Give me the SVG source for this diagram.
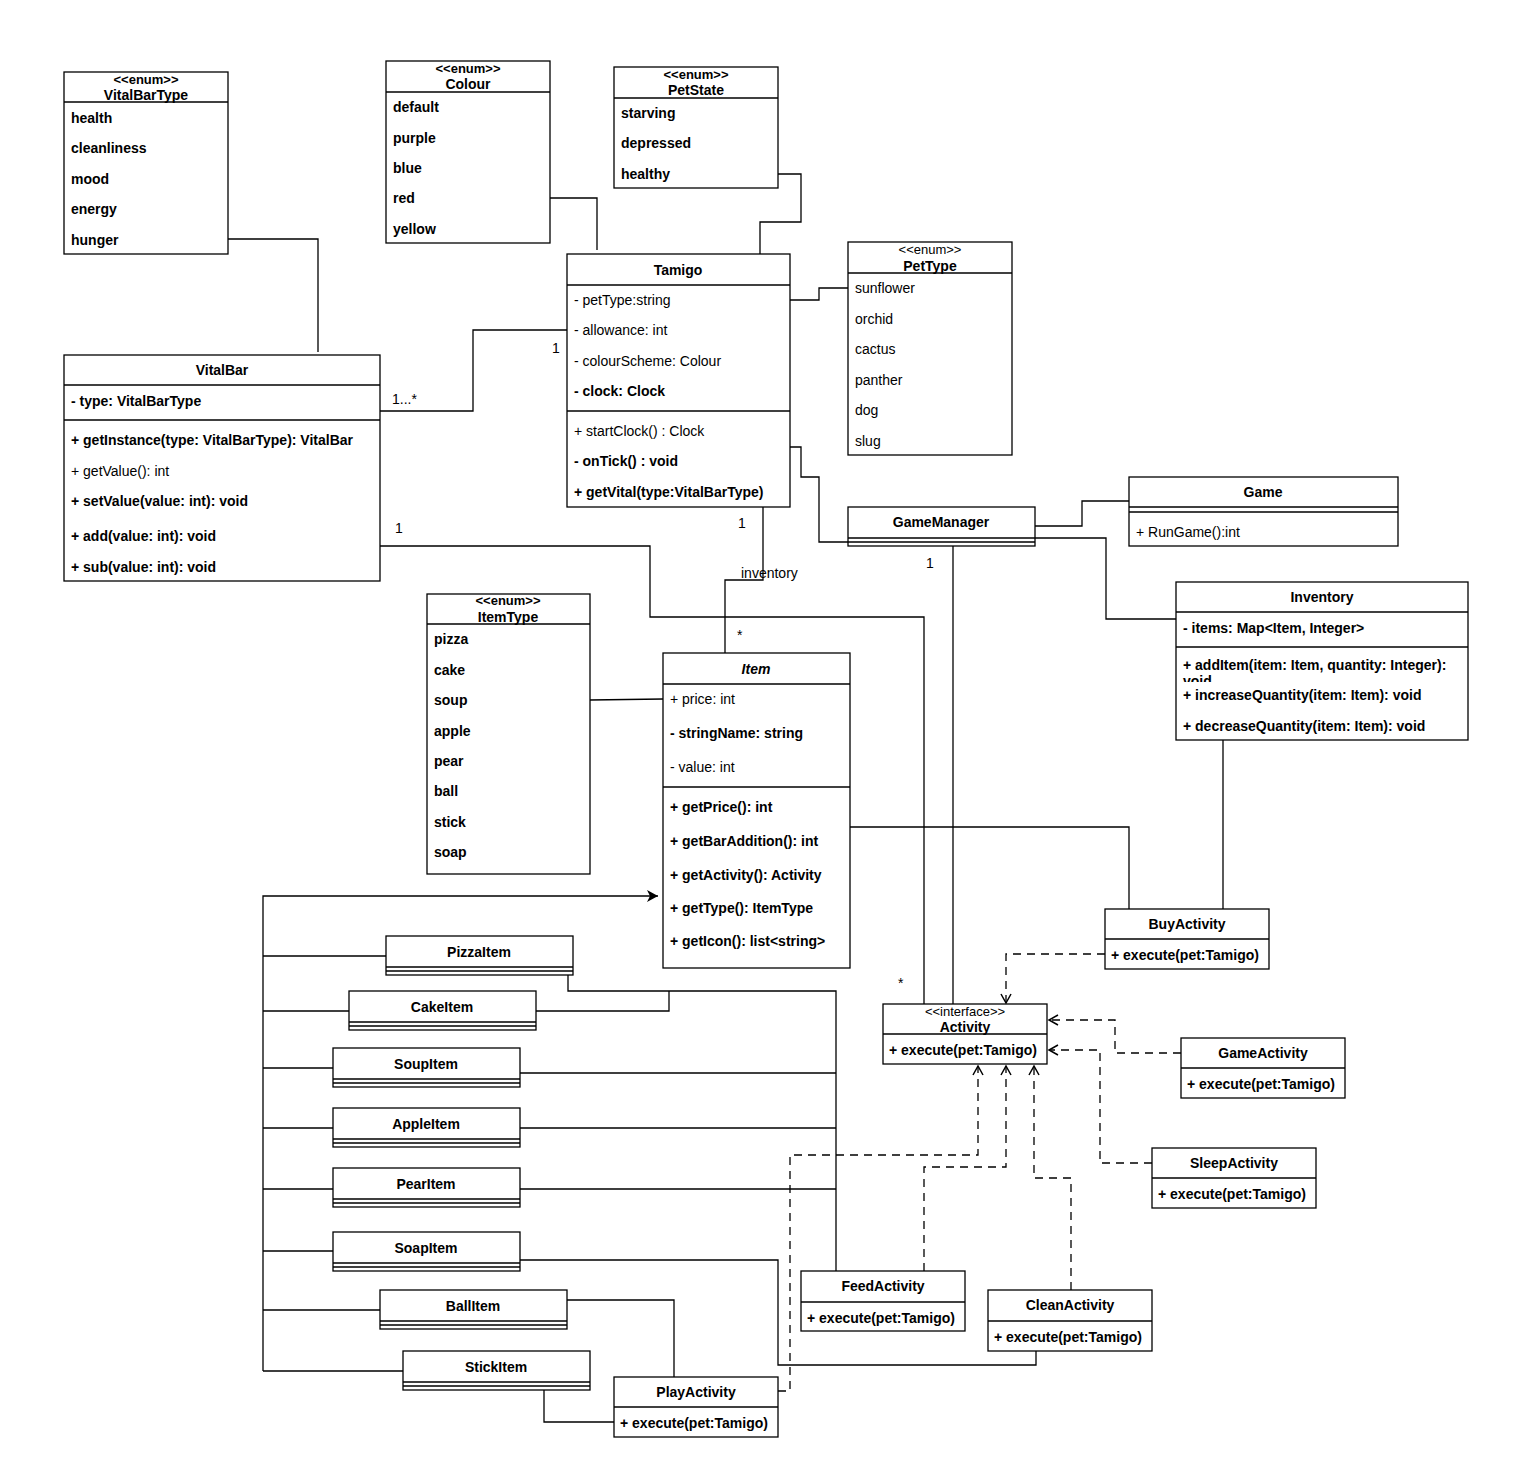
<svg xmlns="http://www.w3.org/2000/svg" width="1536" height="1468" viewBox="0 0 1536 1468">
<style>
.b{fill:#fff;stroke:#000;stroke-width:1.3}
.l{stroke:#000;stroke-width:1.3;fill:none}
.d{stroke:#000;stroke-width:1.3;fill:none;stroke-dasharray:8 6}
text{font-family:"Liberation Sans",Arial,sans-serif;font-size:14px;fill:#000}
.t{font-weight:bold;text-anchor:middle}
.s{text-anchor:middle;font-size:13px}
.bo{font-weight:bold}
</style>
<defs>
<marker id="a" markerWidth="12" markerHeight="12" refX="10" refY="6" orient="auto" markerUnits="userSpaceOnUse"><path d="M1,1 L10,6 L1,11" fill="none" stroke="#000" stroke-width="1.5"/></marker>
<marker id="g" markerWidth="14" markerHeight="14" refX="12" refY="7" orient="auto" markerUnits="userSpaceOnUse"><path d="M1,1 L12,7 L1,13 L4,7 Z" fill="#000"/></marker>
</defs>
<rect width="1536" height="1468" fill="#fff"/>
<g id="connectors">
<path class="l" d="M228,239 H318 V352"/>
<path class="l" d="M550,198 H597 V250"/>
<path class="l" d="M778,174 H801 V222 H760 V254"/>
<path class="l" d="M790,300 H819 V288 H848"/>
<path class="l" d="M380,411 H473 V330 H567"/>
<path class="l" d="M790,447 H801 V477 H819 V542 H848"/>
<path class="l" d="M763,507 V580 H725 V653"/>
<path class="l" d="M380,546 H650 V617 H924 V1004"/>
<path class="l" d="M953,546 V1004"/>
<path class="l" d="M1035,526 H1082 V501 H1129"/>
<path class="l" d="M1035,538 H1106 V619 H1176"/>
<path class="l" d="M1223,740 V909"/>
<path class="l" d="M850,827 H1129 V909"/>
<path class="l" d="M590,700 L663,699"/>
<path class="l" d="M263,1371 V896 H658" marker-end="url(#g)"/>
<path class="l" d="M263,956 H386 M263,1011 H349 M263,1068 H333 M263,1128 H333 M263,1189 H333 M263,1251 H333 M263,1310 H380 M263,1371 H403"/>
<path class="l" d="M568,975 V991 H836 V1271"/>
<path class="l" d="M536,1011 H669 V991"/>
<path class="l" d="M520,1073 H836 M520,1128 H836 M520,1189 H836"/>
<path class="l" d="M520,1260 H778 V1365 H1036 V1351"/>
<path class="l" d="M567,1300 H674 V1377"/>
<path class="l" d="M544,1390 V1422 H614"/>
<path class="d" d="M1105,954 H1006 V1003" marker-end="url(#a)"/>
<path class="d" d="M1181,1053 H1115 V1020 H1049" marker-end="url(#a)"/>
<path class="d" d="M1152,1163 H1100 V1050 H1049" marker-end="url(#a)"/>
<path class="d" d="M924,1271 V1167 H1006 V1066" marker-end="url(#a)"/>
<path class="d" d="M1071,1290 V1178 H1034 V1066" marker-end="url(#a)"/>
<path class="d" d="M778,1391 H790 V1155 H978 V1066" marker-end="url(#a)"/>
<text x="392" y="404" font-size="12">1...*</text>
<text x="552" y="353" font-size="12">1</text>
<text x="741" y="578" font-size="12">inventory</text>
<text x="738" y="528" font-size="12">1</text>
<text x="737" y="640" font-size="12">*</text>
<text x="395" y="533" font-size="12">1</text>
<text x="898" y="988" font-size="12">*</text>
<text x="926" y="568" font-size="12">1</text>
</g>
<g id="VitalBarType"><rect class="b" x="64" y="72" width="164" height="182"/><line class="l" x1="64" y1="102" x2="228" y2="102"/>
<text class="s bo" x="146" y="84">&lt;&lt;enum&gt;&gt;</text><text class="t" x="146" y="100">VitalBarType</text>
<text class="bo" x="71" y="123">health</text><text class="bo" x="71" y="153">cleanliness</text><text class="bo" x="71" y="184">mood</text><text class="bo" x="71" y="214">energy</text><text class="bo" x="71" y="245">hunger</text></g>
<g id="Colour"><rect class="b" x="386" y="61" width="164" height="182"/><line class="l" x1="386" y1="92" x2="550" y2="92"/>
<text class="s bo" x="468" y="73">&lt;&lt;enum&gt;&gt;</text><text class="t" x="468" y="89">Colour</text>
<text class="bo" x="393" y="112">default</text><text class="bo" x="393" y="143">purple</text><text class="bo" x="393" y="173">blue</text><text class="bo" x="393" y="203">red</text><text class="bo" x="393" y="234">yellow</text></g>
<g id="PetState"><rect class="b" x="614" y="67" width="164" height="121"/><line class="l" x1="614" y1="98" x2="778" y2="98"/>
<text class="s bo" x="696" y="79">&lt;&lt;enum&gt;&gt;</text><text class="t" x="696" y="95">PetState</text>
<text class="bo" x="621" y="118">starving</text><text class="bo" x="621" y="148">depressed</text><text class="bo" x="621" y="179">healthy</text></g>
<g id="Tamigo"><rect class="b" x="567" y="254" width="223" height="253"/><line class="l" x1="567" y1="285" x2="790" y2="285"/><line class="l" x1="567" y1="411" x2="790" y2="411"/>
<text class="t" x="678" y="275">Tamigo</text>
<text x="574" y="305">- petType:string</text><text x="574" y="335">- allowance: int</text><text x="574" y="366">- colourScheme: Colour</text><text class="bo" x="574" y="396">- clock: Clock</text>
<text x="574" y="436">+ startClock() : Clock</text><text class="bo" x="574" y="466">- onTick() : void</text><text class="bo" x="574" y="497">+ getVital(type:VitalBarType)</text></g>
<g id="PetType"><rect class="b" x="848" y="242" width="164" height="213"/><line class="l" x1="848" y1="273" x2="1012" y2="273"/>
<text class="s" x="930" y="254">&lt;&lt;enum&gt;&gt;</text><text class="t" x="930" y="271">PetType</text>
<text x="855" y="293">sunflower</text><text x="855" y="324">orchid</text><text x="855" y="354">cactus</text><text x="855" y="385">panther</text><text x="855" y="415">dog</text><text x="855" y="446">slug</text></g>
<g id="VitalBar"><rect class="b" x="64" y="355" width="316" height="226"/><line class="l" x1="64" y1="385" x2="380" y2="385"/><line class="l" x1="64" y1="420" x2="380" y2="420"/>
<text class="t" x="222" y="375">VitalBar</text><text class="bo" x="71" y="406">- type: VitalBarType</text>
<text class="bo" x="71" y="445">+ getInstance(type: VitalBarType): VitalBar</text><text x="71" y="476">+ getValue(): int</text><text class="bo" x="71" y="506">+ setValue(value: int): void</text><text class="bo" x="71" y="541">+ add(value: int): void</text><text class="bo" x="71" y="572">+ sub(value: int): void</text></g>
<g id="GameManager"><rect class="b" x="848" y="507" width="187" height="39"/><path class="l" d="M848,538 H1035 M848,542 H1035"/><text class="t" x="941" y="527">GameManager</text></g>
<g id="Game"><rect class="b" x="1129" y="477" width="269" height="69"/><path class="l" d="M1129,507 H1398 M1129,512 H1398"/><text class="t" x="1263" y="497">Game</text><text x="1136" y="537">+ RunGame():int</text></g>
<g id="Inventory"><rect class="b" x="1176" y="582" width="292" height="158"/><line class="l" x1="1176" y1="612" x2="1468" y2="612"/><line class="l" x1="1176" y1="647" x2="1468" y2="647"/>
<text class="t" x="1322" y="602">Inventory</text><text class="bo" x="1183" y="633">- items: Map&lt;Item, Integer&gt;</text>
<text class="bo" x="1183" y="670">+ addItem(item: Item, quantity: Integer):</text><text class="bo" x="1183" y="686" clip-path="url(#c)">void</text>
<clipPath id="c"><rect x="1176" y="670" width="292" height="12"/></clipPath>
<text class="bo" x="1183" y="700">+ increaseQuantity(item: Item): void</text><text class="bo" x="1183" y="731">+ decreaseQuantity(item: Item): void</text></g>
<g id="ItemType"><rect class="b" x="427" y="594" width="163" height="280"/><line class="l" x1="427" y1="624" x2="590" y2="624"/>
<text class="s bo" x="508" y="605">&lt;&lt;enum&gt;&gt;</text><text class="t" x="508" y="622">ItemType</text>
<text class="bo" x="434" y="644">pizza</text><text class="bo" x="434" y="675">cake</text><text class="bo" x="434" y="705">soup</text><text class="bo" x="434" y="736">apple</text><text class="bo" x="434" y="766">pear</text><text class="bo" x="434" y="796">ball</text><text class="bo" x="434" y="827">stick</text><text class="bo" x="434" y="857">soap</text></g>
<g id="Item"><rect class="b" x="663" y="653" width="187" height="315"/><line class="l" x1="663" y1="684" x2="850" y2="684"/><line class="l" x1="663" y1="787" x2="850" y2="787"/>
<text class="t" x="756" y="674" font-style="italic">Item</text>
<text x="670" y="704">+ price: int</text><text class="bo" x="670" y="738">- stringName: string</text><text x="670" y="772">- value: int</text>
<text class="bo" x="670" y="812">+ getPrice(): int</text><text class="bo" x="670" y="846">+ getBarAddition(): int</text><text class="bo" x="670" y="880">+ getActivity(): Activity</text><text class="bo" x="670" y="913">+ getType(): ItemType</text><text class="bo" x="670" y="946">+ getIcon(): list&lt;string&gt;</text></g>
<g id="PizzaItem"><rect class="b" x="386" y="936" width="187" height="39"/><path class="l" d="M386,967 H573 M386,971 H573"/><text class="t" x="479" y="957">PizzaItem</text></g>
<g id="CakeItem"><rect class="b" x="349" y="991" width="187" height="39"/><path class="l" d="M349,1022 H536 M349,1026 H536"/><text class="t" x="442" y="1012">CakeItem</text></g>
<g id="SoupItem"><rect class="b" x="333" y="1048" width="187" height="39"/><path class="l" d="M333,1079 H520 M333,1083 H520"/><text class="t" x="426" y="1069">SoupItem</text></g>
<g id="AppleItem"><rect class="b" x="333" y="1108" width="187" height="39"/><path class="l" d="M333,1139 H520 M333,1143 H520"/><text class="t" x="426" y="1129">AppleItem</text></g>
<g id="PearItem"><rect class="b" x="333" y="1168" width="187" height="39"/><path class="l" d="M333,1199 H520 M333,1203 H520"/><text class="t" x="426" y="1189">PearItem</text></g>
<g id="SoapItem"><rect class="b" x="333" y="1232" width="187" height="39"/><path class="l" d="M333,1263 H520 M333,1267 H520"/><text class="t" x="426" y="1253">SoapItem</text></g>
<g id="BallItem"><rect class="b" x="380" y="1290" width="187" height="39"/><path class="l" d="M380,1321 H567 M380,1325 H567"/><text class="t" x="473" y="1311">BallItem</text></g>
<g id="StickItem"><rect class="b" x="403" y="1351" width="187" height="39"/><path class="l" d="M403,1382 H590 M403,1386 H590"/><text class="t" x="496" y="1372">StickItem</text></g>
<g id="PlayActivity"><rect class="b" x="614" y="1377" width="164" height="60"/><line class="l" x1="614" y1="1407" x2="778" y2="1407"/><text class="t" x="696" y="1397">PlayActivity</text><text class="bo" x="620" y="1428">+ execute(pet:Tamigo)</text></g>
<g id="FeedActivity"><rect class="b" x="801" y="1271" width="164" height="60"/><line class="l" x1="801" y1="1302" x2="965" y2="1302"/><text class="t" x="883" y="1291">FeedActivity</text><text class="bo" x="807" y="1323">+ execute(pet:Tamigo)</text></g>
<g id="CleanActivity"><rect class="b" x="988" y="1290" width="164" height="61"/><line class="l" x1="988" y1="1321" x2="1152" y2="1321"/><text class="t" x="1070" y="1310">CleanActivity</text><text class="bo" x="994" y="1342">+ execute(pet:Tamigo)</text></g>
<g id="Activity"><rect class="b" x="883" y="1004" width="164" height="60"/><line class="l" x1="883" y1="1034" x2="1047" y2="1034"/><text class="s" x="965" y="1016">&lt;&lt;interface&gt;&gt;</text><text class="t" x="965" y="1032">Activity</text><text class="bo" x="889" y="1055">+ execute(pet:Tamigo)</text></g>
<g id="BuyActivity"><rect class="b" x="1105" y="909" width="164" height="60"/><line class="l" x1="1105" y1="939" x2="1269" y2="939"/><text class="t" x="1187" y="929">BuyActivity</text><text class="bo" x="1111" y="960">+ execute(pet:Tamigo)</text></g>
<g id="GameActivity"><rect class="b" x="1181" y="1038" width="164" height="60"/><line class="l" x1="1181" y1="1068" x2="1345" y2="1068"/><text class="t" x="1263" y="1058">GameActivity</text><text class="bo" x="1187" y="1089">+ execute(pet:Tamigo)</text></g>
<g id="SleepActivity"><rect class="b" x="1152" y="1148" width="164" height="60"/><line class="l" x1="1152" y1="1178" x2="1316" y2="1178"/><text class="t" x="1234" y="1168">SleepActivity</text><text class="bo" x="1158" y="1199">+ execute(pet:Tamigo)</text></g>
</svg>
